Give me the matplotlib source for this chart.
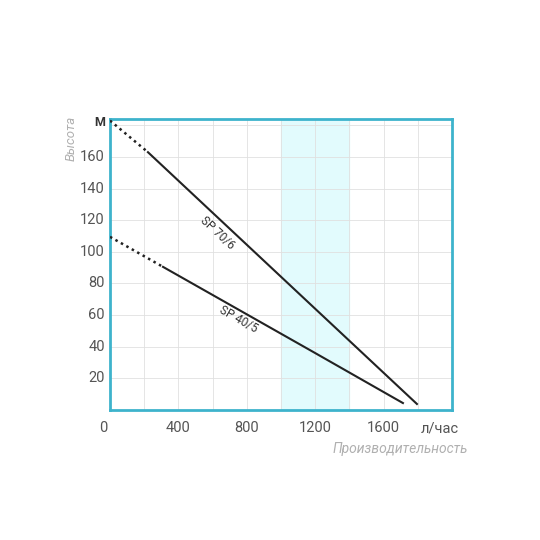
import matplotlib.pyplot as plt
import numpy as np

# flow (l/h) and head (m)
sp70_dot_x = [0, 222]
sp70_dot_y = [183, 163]
sp70_x = [222, 1200, 1795]
sp70_y = [163, 64, 3.8]

sp40_dot_x = [0, 310]
sp40_dot_y = [109.5, 90.5]
sp40_x = [310, 1200, 1713]
sp40_y = [90.5, 36, 4.4]

x_ticks = [0, 400, 800, 1200, 1600]
y_ticks = [20, 40, 60, 80, 100, 120, 140, 160]
band = (1000, 1400)

font = ['Roboto', 'DejaVu Sans']
cyan = '#3db3cc'

fig = plt.figure(figsize=(5.4, 5.4), dpi=100)
ax = fig.add_axes([110/540, 130/540, 342/540, 291/540])
ax.set_xlim(0, 2000)
ax.set_ylim(0, 184)

ax.axvspan(band[0], band[1], color='#e2fbfd', zorder=0)
ax.set_xticks(np.arange(200, 2000, 200))
ax.set_yticks(np.arange(20, 184, 20))
ax.grid(True, color='#e0e0e0', lw=0.6, zorder=1)
ax.tick_params(length=0, labelbottom=False, labelleft=False)

for s in ax.spines.values():
    s.set_color(cyan)
    s.set_linewidth(2)

ax.plot(sp70_dot_x, sp70_dot_y, color='#222', lw=1.8, ls=(0, (1, 1.5)), zorder=3)
ax.plot(sp70_x, sp70_y, color='#222', lw=1.5, zorder=3)
ax.plot(sp40_dot_x, sp40_dot_y, color='#222', lw=1.8, ls=(0, (1, 1.5)), zorder=3)
ax.plot(sp40_x, sp40_y, color='#222', lw=1.5, zorder=3)

ax.text(626, 112, 'SP 70/6', rotation=-43, ha='center', va='center',
        fontsize=8.5, color='#333', family=font)
ax.text(749, 57, 'SP 40/5', rotation=-29.5, ha='center', va='center',
        fontsize=8.5, color='#333', family=font)

# tick labels
for v in x_ticks:
    xpos = -40 if v == 0 else v
    ax.text(xpos, -7, str(v), ha='center', va='top', fontsize=10.5, color='#555',
            family=font, clip_on=False)
ax.text(1930, -7, 'л/час', ha='center', va='top', fontsize=10.5, color='#555',
        family=font, clip_on=False)
for v in y_ticks:
    ax.text(-30, v, str(v), ha='right', va='center', fontsize=10.5, color='#555',
            family=font, clip_on=False)
ax.text(-30, 182, 'М', ha='right', va='center', fontsize=9, color='#333',
        fontweight='bold', family=font, clip_on=False)

ax.text(-225, 172, 'Высота', rotation=90, ha='center', va='center', fontsize=9.5,
        color='#b0b0b0', style='italic', family=font, clip_on=False)
ax.text(1700, -20, 'Производительность', ha='center', va='top', fontsize=10,
        color='#b0b0b0', style='italic', family=font, clip_on=False)

fig.savefig('out.png', dpi=100)
